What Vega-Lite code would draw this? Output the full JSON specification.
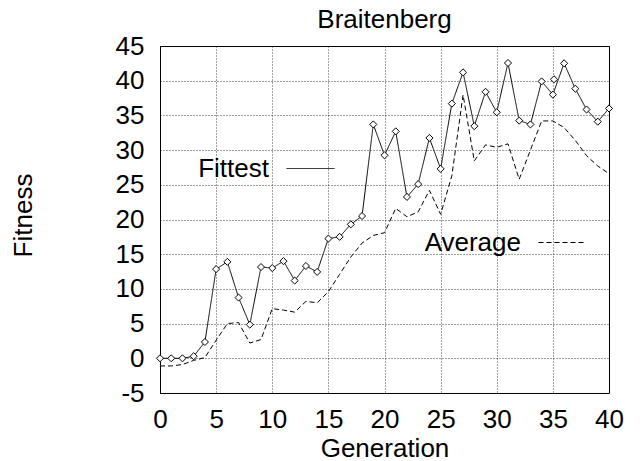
{
  "$schema": "https://vega.github.io/schema/vega-lite/v6.json",
  "width": 449,
  "height": 347,
  "autosize": "none",
  "padding": {"left": 160, "top": 46, "right": 35, "bottom": 68},
  "background": "white",
  "title": {
    "text": "Braitenberg",
    "font": "Liberation Sans",
    "fontSize": 26,
    "fontWeight": "normal",
    "color": "black",
    "anchor": "middle",
    "frame": "group",
    "baseline": "alphabetic",
    "offset": -21
  },
  "config": {
    "view": {"stroke": "black", "strokeWidth": 1},
    "font": "Liberation Sans",
    "axis": {
      "labelFont": "Liberation Sans",
      "labelFontSize": 26,
      "labelColor": "black",
      "titleFont": "Liberation Sans",
      "titleFontSize": 26,
      "titleFontWeight": "normal",
      "titleColor": "black",
      "domain": false,
      "ticks": false,
      "tickSize": 0,
      "grid": true,
      "gridColor": "#000000",
      "gridOpacity": 0.75,
      "gridDash": [1, 2],
      "gridWidth": 1
    },
    "legend": {
      "orient": "none",
      "title": null,
      "labelFont": "Liberation Sans",
      "labelFontSize": 26,
      "labelColor": "black",
      "labelAlign": "right",
      "labelBaseline": "middle",
      "labelOffset": -66,
      "symbolOffset": 0,
      "symbolType": "stroke",
      "symbolSize": 2304,
      "symbolStrokeWidth": 1,
      "symbolStrokeColor": "black",
      "padding": 0
    }
  },
  "data": {
    "values": [
      {"gen": 0, "series": "Fittest", "fitness": 0},
      {"gen": 1, "series": "Fittest", "fitness": 0},
      {"gen": 2, "series": "Fittest", "fitness": 0},
      {"gen": 3, "series": "Fittest", "fitness": 0.3},
      {"gen": 4, "series": "Fittest", "fitness": 2.35},
      {"gen": 5, "series": "Fittest", "fitness": 12.85},
      {"gen": 6, "series": "Fittest", "fitness": 13.9},
      {"gen": 7, "series": "Fittest", "fitness": 8.75},
      {"gen": 8, "series": "Fittest", "fitness": 4.85},
      {"gen": 9, "series": "Fittest", "fitness": 13.15},
      {"gen": 10, "series": "Fittest", "fitness": 13.0},
      {"gen": 11, "series": "Fittest", "fitness": 14.0},
      {"gen": 12, "series": "Fittest", "fitness": 11.2},
      {"gen": 13, "series": "Fittest", "fitness": 13.3},
      {"gen": 14, "series": "Fittest", "fitness": 12.45},
      {"gen": 15, "series": "Fittest", "fitness": 17.25},
      {"gen": 16, "series": "Fittest", "fitness": 17.5},
      {"gen": 17, "series": "Fittest", "fitness": 19.3},
      {"gen": 18, "series": "Fittest", "fitness": 20.5},
      {"gen": 19, "series": "Fittest", "fitness": 33.7},
      {"gen": 20, "series": "Fittest", "fitness": 29.25},
      {"gen": 21, "series": "Fittest", "fitness": 32.7},
      {"gen": 22, "series": "Fittest", "fitness": 23.25},
      {"gen": 23, "series": "Fittest", "fitness": 25.1},
      {"gen": 24, "series": "Fittest", "fitness": 31.75},
      {"gen": 25, "series": "Fittest", "fitness": 27.3},
      {"gen": 26, "series": "Fittest", "fitness": 36.7},
      {"gen": 27, "series": "Fittest", "fitness": 41.2},
      {"gen": 28, "series": "Fittest", "fitness": 33.45},
      {"gen": 29, "series": "Fittest", "fitness": 38.4},
      {"gen": 30, "series": "Fittest", "fitness": 35.45},
      {"gen": 31, "series": "Fittest", "fitness": 42.55},
      {"gen": 32, "series": "Fittest", "fitness": 34.25},
      {"gen": 33, "series": "Fittest", "fitness": 33.7},
      {"gen": 34, "series": "Fittest", "fitness": 39.9},
      {"gen": 35, "series": "Fittest", "fitness": 38.0},
      {"gen": 36, "series": "Fittest", "fitness": 42.5},
      {"gen": 37, "series": "Fittest", "fitness": 38.85},
      {"gen": 38, "series": "Fittest", "fitness": 35.85},
      {"gen": 39, "series": "Fittest", "fitness": 34.1},
      {"gen": 40, "series": "Fittest", "fitness": 36.0},
      {"gen": 35.1, "series": "Extra", "fitness": 40.2},
      {"gen": 0, "series": "Average", "fitness": -1.1},
      {"gen": 1, "series": "Average", "fitness": -1.1},
      {"gen": 2, "series": "Average", "fitness": -0.9},
      {"gen": 3, "series": "Average", "fitness": -0.3},
      {"gen": 4, "series": "Average", "fitness": 0.1},
      {"gen": 5, "series": "Average", "fitness": 2.6},
      {"gen": 6, "series": "Average", "fitness": 5.0},
      {"gen": 7, "series": "Average", "fitness": 5.15},
      {"gen": 8, "series": "Average", "fitness": 2.2},
      {"gen": 9, "series": "Average", "fitness": 2.7},
      {"gen": 10, "series": "Average", "fitness": 7.15},
      {"gen": 11, "series": "Average", "fitness": 6.95},
      {"gen": 12, "series": "Average", "fitness": 6.65},
      {"gen": 13, "series": "Average", "fitness": 8.2},
      {"gen": 14, "series": "Average", "fitness": 8.0},
      {"gen": 15, "series": "Average", "fitness": 9.6},
      {"gen": 16, "series": "Average", "fitness": 12.1},
      {"gen": 17, "series": "Average", "fitness": 14.6},
      {"gen": 18, "series": "Average", "fitness": 16.6},
      {"gen": 19, "series": "Average", "fitness": 17.7},
      {"gen": 20, "series": "Average", "fitness": 18.1},
      {"gen": 21, "series": "Average", "fitness": 21.6},
      {"gen": 22, "series": "Average", "fitness": 20.4},
      {"gen": 23, "series": "Average", "fitness": 21.1},
      {"gen": 24, "series": "Average", "fitness": 24.2},
      {"gen": 25, "series": "Average", "fitness": 20.75},
      {"gen": 26, "series": "Average", "fitness": 26.3},
      {"gen": 27, "series": "Average", "fitness": 37.95},
      {"gen": 28, "series": "Average", "fitness": 28.45},
      {"gen": 29, "series": "Average", "fitness": 30.75},
      {"gen": 30, "series": "Average", "fitness": 30.4},
      {"gen": 31, "series": "Average", "fitness": 30.9},
      {"gen": 32, "series": "Average", "fitness": 25.8},
      {"gen": 33, "series": "Average", "fitness": 30.0},
      {"gen": 34, "series": "Average", "fitness": 34.2},
      {"gen": 35, "series": "Average", "fitness": 34.2},
      {"gen": 36, "series": "Average", "fitness": 33.25},
      {"gen": 37, "series": "Average", "fitness": 31.4},
      {"gen": 38, "series": "Average", "fitness": 29.2},
      {"gen": 39, "series": "Average", "fitness": 27.7},
      {"gen": 40, "series": "Average", "fitness": 26.6}
    ]
  },
  "encoding": {
    "x": {
      "field": "gen",
      "type": "quantitative",
      "scale": {"domain": [0, 40], "nice": false, "zero": false},
      "axis": {
        "title": "Generation",
        "values": [0, 5, 10, 15, 20, 25, 30, 35, 40],
        "labelPadding": 13,
        "labelFlush": false,
        "labelOverlap": false,
        "titlePadding": 3
      }
    },
    "y": {
      "field": "fitness",
      "type": "quantitative",
      "scale": {"domain": [-5, 45], "nice": false, "zero": false},
      "axis": {
        "title": "Fitness",
        "values": [-5, 0, 5, 10, 15, 20, 25, 30, 35, 40, 45],
        "labelExpr": "'' + datum.value",
        "labelPadding": 16,
        "labelFlush": false,
        "labelOverlap": false,
        "titlePadding": 79,
        "titleY": 169
      }
    }
  },
  "layer": [
    {
      "transform": [{"filter": "datum.series === 'Fittest'"}],
      "mark": {"type": "line", "color": "black", "strokeWidth": 1},
      "encoding": {
        "strokeDash": {
          "field": "series",
          "type": "nominal",
          "scale": {"domain": ["Fittest"], "range": [[1, 0]]},
          "legend": {"legendX": 126, "legendY": 98}
        }
      }
    },
    {
      "transform": [{"filter": "datum.series === 'Average'"}],
      "mark": {"type": "line", "color": "black", "strokeWidth": 1},
      "encoding": {
        "strokeDash": {
          "field": "series",
          "type": "nominal",
          "scale": {"domain": ["Average"], "range": [[5, 3]]},
          "legend": {"legendX": 378, "legendY": 172}
        }
      }
    },
    {
      "transform": [{"filter": "datum.series === 'Fittest' || datum.series === 'Extra'"}],
      "mark": {"type": "point", "shape": "diamond", "size": 50, "filled": false, "fill": "white", "fillOpacity": 1, "stroke": "black", "strokeWidth": 1, "opacity": 1}
    }
  ],
  "resolve": {
    "scale": {"strokeDash": "independent"},
    "legend": {"strokeDash": "independent"}
  }
}
